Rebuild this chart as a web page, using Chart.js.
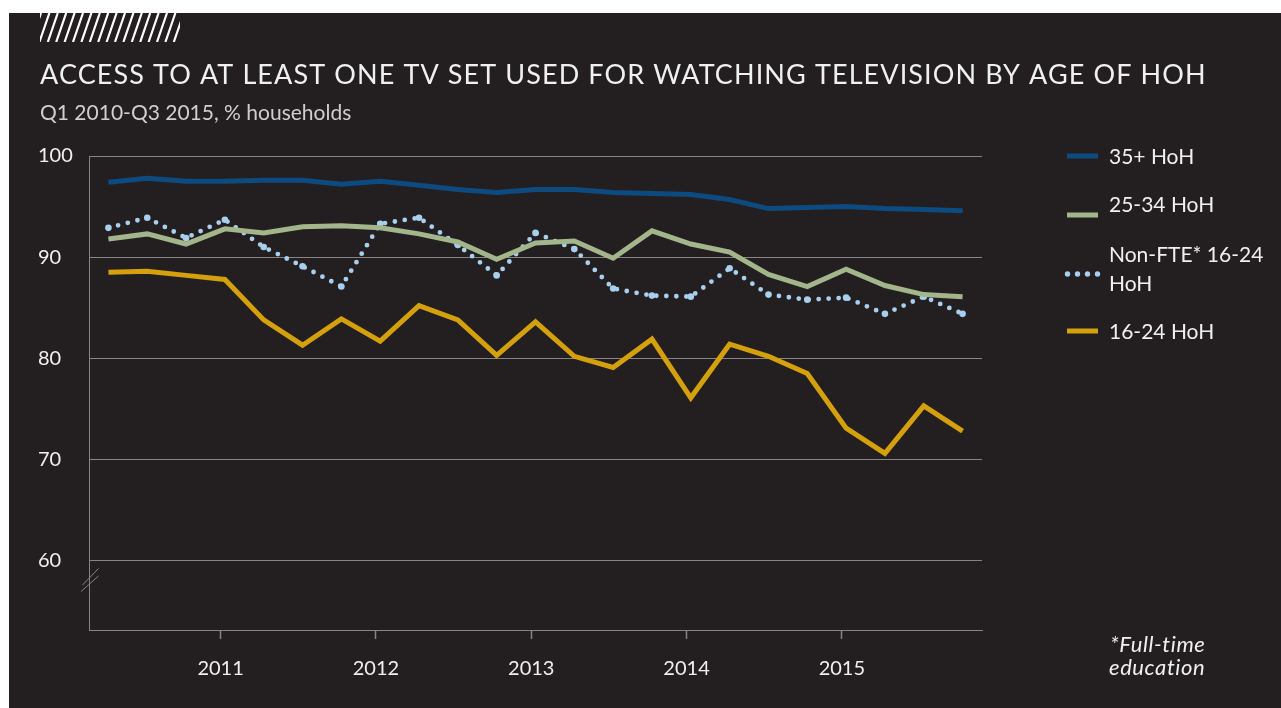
<!DOCTYPE html>
<html><head><meta charset="utf-8">
<script src="https://cdn.jsdelivr.net/npm/chart.js@4"></script>
<style>
html,body{margin:0;padding:0;background:#fff;width:1281px;height:708px;overflow:hidden;}
#wrap{position:absolute;left:9px;top:13px;width:1272px;height:695px;background:#231f20;}
canvas{display:block;}
</style></head><body>
<div id="wrap"><canvas id="c" width="1272" height="695"></canvas></div>
<script>
const quarters = ['Q1 2010','Q2 2010','Q3 2010','Q4 2010','Q1 2011','Q2 2011','Q3 2011','Q4 2011',
  'Q1 2012','Q2 2012','Q3 2012','Q4 2012','Q1 2013','Q2 2013','Q3 2013','Q4 2013',
  'Q1 2014','Q2 2014','Q3 2014','Q4 2014','Q1 2015','Q2 2015','Q3 2015'];
const yearLabels = ['2011','2012','2013','2014','2015'];
const yTickValues = [60, 70, 80, 90, 100];
const hoh35 = [97.4, 97.8, 97.5, 97.5, 97.6, 97.6, 97.2, 97.5, 97.1, 96.7, 96.4, 96.7, 96.7, 96.4, 96.3, 96.2, 95.7, 94.8, 94.9, 95.0, 94.8, 94.7, 94.6];
const hoh2534 = [91.8, 92.3, 91.3, 92.8, 92.4, 93.0, 93.1, 92.9, 92.3, 91.5, 89.8, 91.4, 91.6, 89.9, 92.6, 91.3, 90.5, 88.3, 87.1, 88.8, 87.2, 86.3, 86.1];
const nonFte1624 = [92.9, 93.9, 91.9, 93.7, 91.0, 89.1, 87.1, 93.3, 93.9, 91.2, 88.2, 92.4, 90.8, 86.9, 86.2, 86.1, 88.9, 86.3, 85.8, 86.0, 84.4, 86.1, 84.4];
const hoh1624 = [88.5, 88.6, 88.2, 87.8, 83.8, 81.3, 83.9, 81.7, 85.2, 83.8, 80.3, 83.6, 80.2, 79.1, 81.9, 76.1, 81.4, 80.2, 78.5, 73.1, 70.6, 75.3, 72.8];
const seriesNames = ['35+ HoH', '25-34 HoH', 'Non-FTE* 16-24 HoH', '16-24 HoH'];

const TITLE = 'ACCESS TO AT LEAST ONE TV SET USED FOR WATCHING TELEVISION BY AGE OF HOH';
const SUBTITLE = 'Q1 2010-Q3 2015, % households';
const FOOTNOTE = ['*Full-time', 'education'];

const C_BLUE = '#0d4a7f', C_GREEN = '#a2b58b', C_GOLD = '#d4a00c', C_LBLUE = '#a8d0ee';
const GRID = '#858585', TEXT = '#f0f0f0';
const FONT = 'Lato, "Open Sans", sans-serif';
const FIRST_YEAR_TICK = 2.89; // position of 1 Jan 2011 in quarter-index units

const pts = arr => arr.map((v, i) => ({x: i, y: v}));

const deco = {
  id: 'deco',
  afterDraw(chart) {
    const ctx = chart.ctx;
    ctx.save();
    // hatch
    ctx.save();
    ctx.beginPath(); ctx.rect(31, 0, 140, 29); ctx.clip();
    ctx.strokeStyle = '#ffffff'; ctx.lineWidth = 2.2;
    ctx.beginPath();
    for (let x = 22; x < 180; x += 8.4) { ctx.moveTo(x, 29); ctx.lineTo(x + 10, 0); }
    ctx.stroke();
    ctx.restore();
    // title
    ctx.fillStyle = TEXT; ctx.textBaseline = 'alphabetic'; ctx.textAlign = 'left';
    ctx.font = '400 27px ' + FONT;
    ctx.letterSpacing = '1.1px';
    ctx.fillText(TITLE, 31, 71);
    ctx.letterSpacing = '0px';
    ctx.fillStyle = '#cfcfcf';
    ctx.font = '400 21px ' + FONT;
    ctx.fillText(SUBTITLE, 31, 107);
    // legend
    ctx.fillStyle = TEXT; ctx.textBaseline = 'middle';
    ctx.font = '400 21px ' + FONT;
    const lx = 1058, tx = 1100;
    ctx.fillStyle = C_BLUE; ctx.fillRect(lx, 140.5, 31, 5);
    ctx.fillStyle = C_GREEN; ctx.fillRect(lx, 199.5, 31, 5);
    ctx.fillStyle = C_GOLD; ctx.fillRect(lx, 315.5, 31, 5);
    ctx.fillStyle = C_LBLUE;
    [lx, lx + 10, lx + 20, lx + 30].forEach(x => { ctx.beginPath(); ctx.arc(x + 0.5, 261, 2.7, 0, Math.PI * 2); ctx.fill(); });
    ctx.fillStyle = TEXT;
    ctx.fillText(seriesNames[0], tx, 144);
    ctx.fillText(seriesNames[1], tx, 192);
    ctx.fillText('Non-FTE* 16-24', tx, 242);
    ctx.fillText('HoH', tx, 271);
    ctx.fillText(seriesNames[3], tx, 319);
    // footnote
    ctx.font = 'italic 400 22px ' + FONT;
    ctx.letterSpacing = '0.6px';
    ctx.fillText(FOOTNOTE[0], 1101, 632);
    ctx.fillText(FOOTNOTE[1], 1100, 655);
    ctx.letterSpacing = '0px';
    // axis break
    ctx.strokeStyle = GRID; ctx.lineWidth = 1;
    ctx.beginPath();
    ctx.moveTo(73.5, 572); ctx.lineTo(89.5, 555.5);
    ctx.moveTo(72, 578.5); ctx.lineTo(89.5, 563);
    ctx.stroke();
    ctx.restore();
  }
};

new Chart(document.getElementById('c'), {
  type: 'line',
  data: {
    datasets: [
      {label: seriesNames[0], data: pts(hoh35), borderColor: C_BLUE, borderWidth: 5, pointRadius: 0, tension: 0},
      {label: seriesNames[1], data: pts(hoh2534), borderColor: C_GREEN, borderWidth: 5, pointRadius: 0, tension: 0},
      {label: seriesNames[2], data: pts(nonFte1624), borderColor: C_LBLUE, borderWidth: 4.8, borderDash: [0, 10], borderCapStyle: 'round',
        pointRadius: 3.3, pointBorderWidth: 0, pointBackgroundColor: C_LBLUE, tension: 0},
      {label: seriesNames[3], data: pts(hoh1624), borderColor: C_GOLD, borderWidth: 5, pointRadius: 0, tension: 0}
    ]
  },
  options: {
    responsive: false, animation: false, events: [],
    layout: {padding: {left: 29, right: 299, top: 143, bottom: 0}},
    plugins: {legend: {display: false}, tooltip: {enabled: false}, title: {display: false}},
    scales: {
      x: {
        type: 'linear', min: -0.5, max: 22.5,
        afterBuildTicks: s => { s.ticks = yearLabels.map((l, k) => ({value: FIRST_YEAR_TICK + 4 * k})); },
        afterFit: s => { s.height = 78; },
        ticks: {callback: (v, i) => yearLabels[i], color: TEXT, font: {family: FONT, size: 20}, padding: 18, maxRotation: 0, autoSkip: false},
        grid: {drawOnChartArea: false, drawTicks: true, tickLength: 9, color: GRID, tickWidth: 1.5},
        border: {display: true, color: GRID, width: 1}
      },
      y: {
        min: 53.15, max: 100,
        afterBuildTicks: s => { s.ticks = yTickValues.map(v => ({value: v})); },
        afterFit: s => { s.width = 51; },
        ticks: {color: TEXT, font: {family: FONT, size: 20}, crossAlign: 'far', padding: 0},
        grid: {color: GRID, lineWidth: 1, drawTicks: false},
        border: {display: true, color: GRID, width: 1}
      }
    }
  },
  plugins: [deco]
});
</script>
</body></html>
